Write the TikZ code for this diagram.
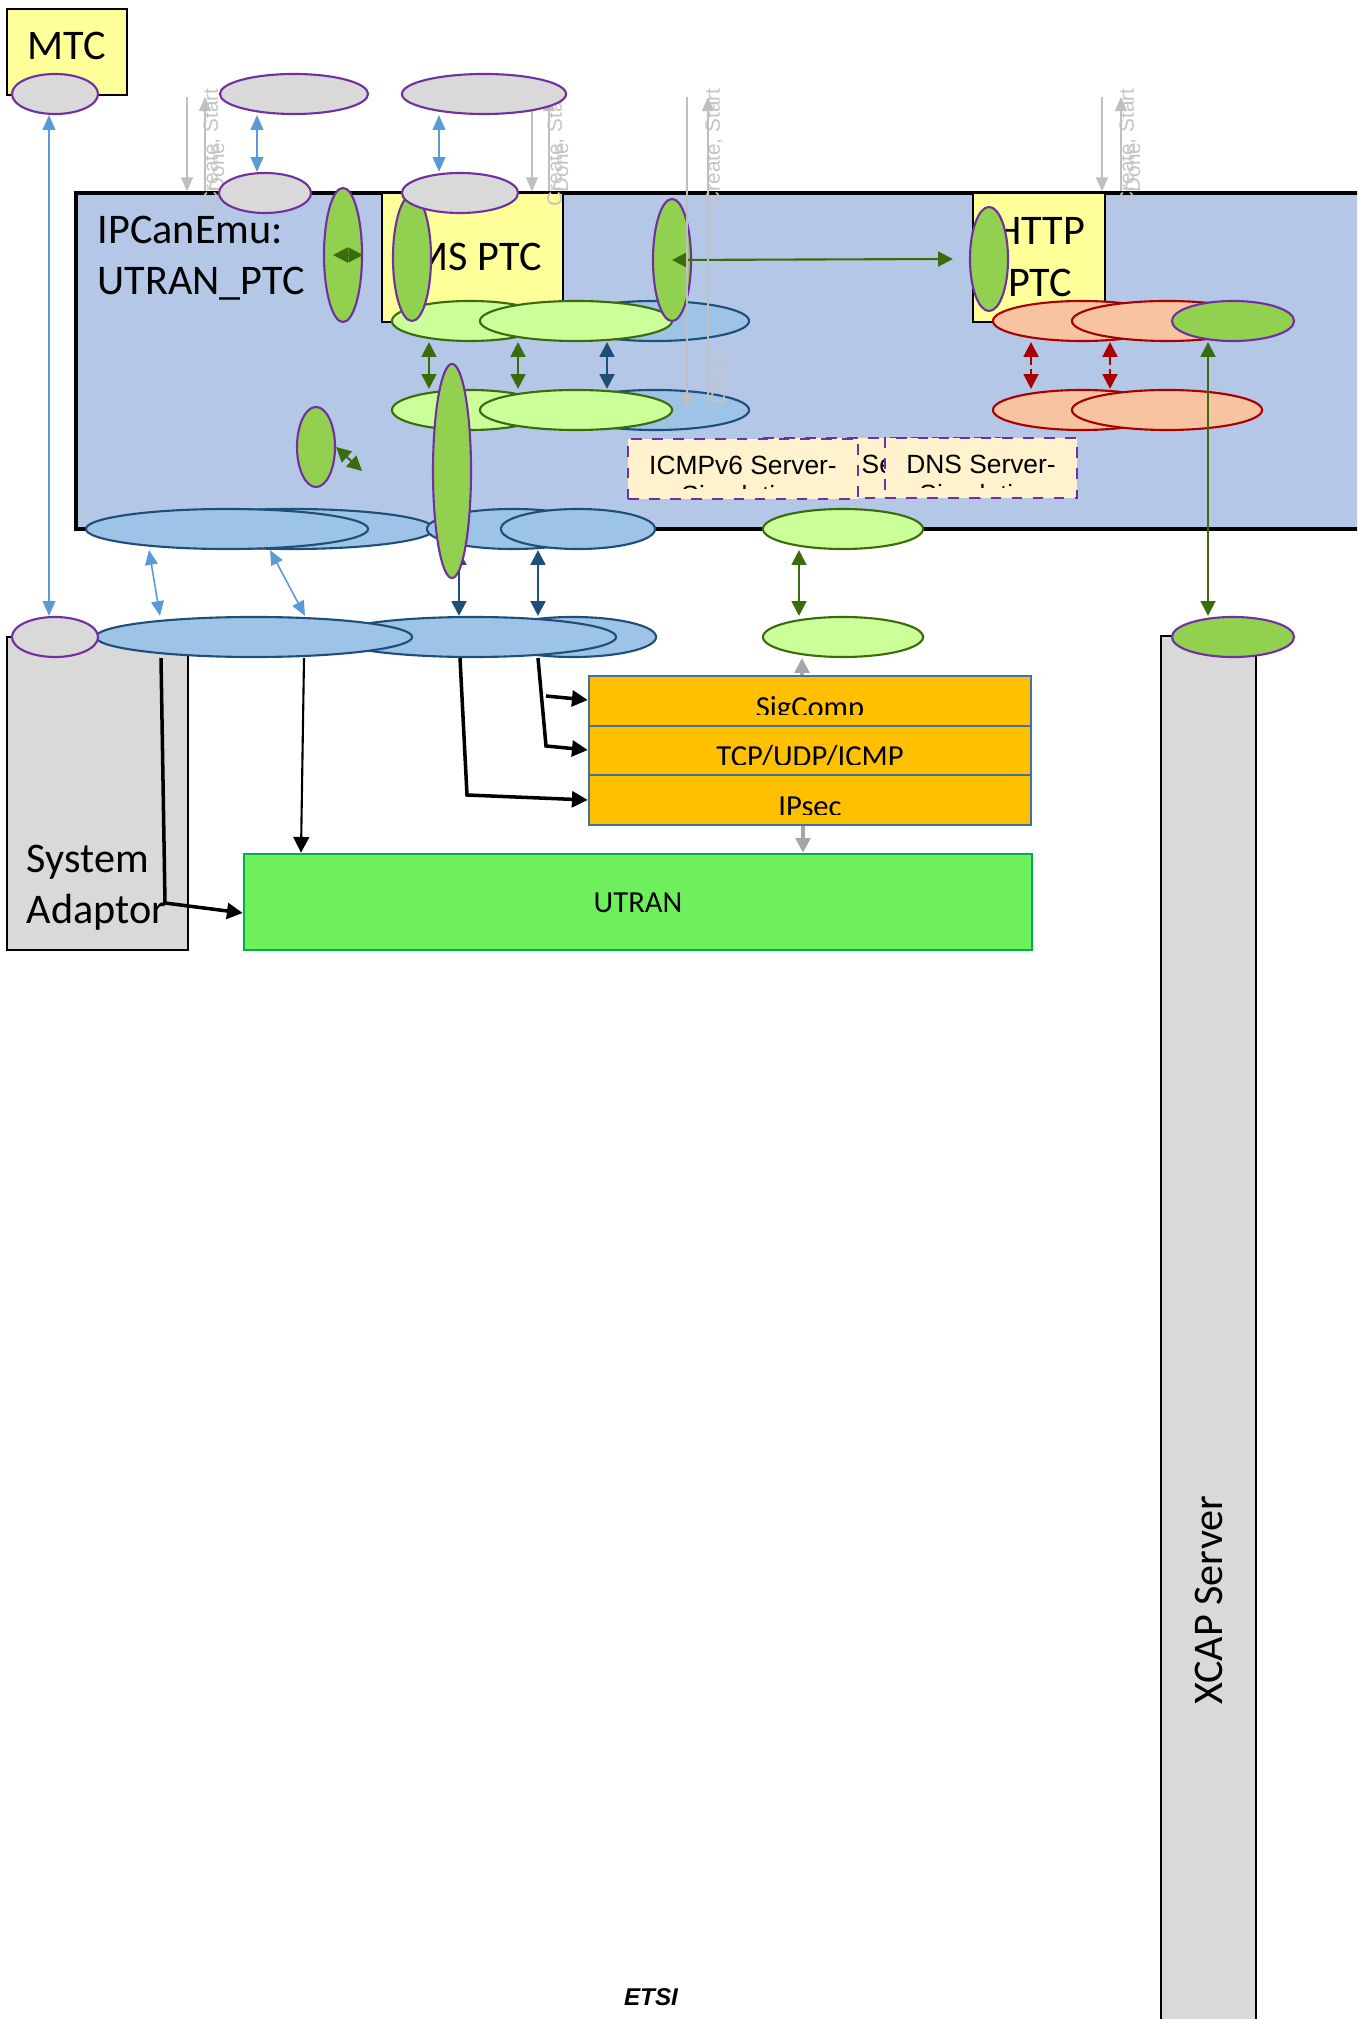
\documentclass[tikz,border=0pt]{standalone}
\usepackage{fontspec}
\setmainfont{Carlito}
\newfontfamily\arialf{Liberation Sans}
\usetikzlibrary{shapes.geometric,arrows.meta,calc}
\definecolor{purp}{HTML}{7030A0}
\definecolor{grayf}{HTML}{D9D9D9}
\definecolor{grnf}{HTML}{92D050}
\definecolor{lgf}{HTML}{CCFF99}
\definecolor{dgrn}{HTML}{3A6B0C}
\definecolor{blf}{HTML}{9DC3E6}
\definecolor{bld}{HTML}{1F4E79}
\definecolor{lblue}{HTML}{5B9BD5}
\definecolor{salf}{HTML}{F7C3A0}
\definecolor{sald}{HTML}{A80000}
\definecolor{canf}{HTML}{B4C7E7}
\definecolor{ylw}{HTML}{FFFF99}
\definecolor{orng}{HTML}{FFC000}
\definecolor{orngd}{HTML}{41719C}
\definecolor{utf}{HTML}{6DF05B}
\definecolor{utd}{HTML}{00B050}
\definecolor{crm}{HTML}{FFF2CC}
\definecolor{ctlline}{HTML}{BFBFBF}
\definecolor{ctltxt}{HTML}{C4C4C4}
\definecolor{gyarrc}{HTML}{A6A6A6}

\begin{document}
\begin{tikzpicture}[x=0.01cm,y=-0.01cm,
  ell/.style 2 args={ellipse,inner sep=0pt,line width=0.6pt,minimum width=#1*0.02cm,minimum height=#2*0.02cm},
  gell/.style={fill=grayf,draw=purp},
  gnell/.style={fill=grnf,draw=purp},
  lgell/.style={fill=lgf,draw=dgrn},
  blell/.style={fill=blf,draw=bld},
  slell/.style={fill=salf,draw=sald},
  rb/.style 2 args={rectangle,inner sep=0pt,line width=0.7pt,draw=black,minimum width=#1*0.01cm,minimum height=#2*0.01cm},
  big/.style={font=\fontsize{12}{14.6}\selectfont,inner sep=0pt},
  mid/.style={font=\fontsize{8.7}{10}\selectfont,inner sep=0pt},
  simtxt/.style={font=\arialf\fontsize{7.5}{8.6}\selectfont,align=center,inner sep=0pt},
  ctl/.style={font=\arialf\fontsize{5.9}{6}\selectfont,text=ctltxt,rotate=90,anchor=west,inner sep=0pt},
  ctlarr/.style={draw=ctlline,line width=0.45pt,>={Triangle[width=3.4pt,length=4pt]},->},
  lbarr/.style={draw=lblue,line width=0.45pt,>={Triangle[width=3.6pt,length=4.2pt]},<->},
  dgarr/.style={draw=dgrn,line width=0.6pt,>={Triangle[width=4.2pt,length=4.2pt]},<->},
  dbarr/.style={draw=bld,line width=0.7pt,>={Triangle[width=4.2pt,length=4.2pt]},<->},
  rdarr/.style={draw=sald,line width=0.7pt,dash pattern=on 2.5pt off 1.2pt,>={Triangle[width=4.2pt,length=4.2pt]},<->},
  gyarr/.style={draw=gyarrc,line width=0.9pt,>={Triangle[width=4.2pt,length=4.2pt]},->},
  blk/.style={draw=black,line width=1pt,>={Triangle[width=4.5pt,length=4.5pt]},->}
]
\useasboundingbox (0,0) rectangle (1357,2019);
\clip (0,0) rectangle (1357,2019);

\node[rb={120}{86},fill=ylw] (mtc) at (67,52) {};
\node[big] (mtcT) at (67,46) {MTC};

\node[rb={181}{313},fill=grayf] (sa) at (97.5,793.5) {};
\node[big,anchor=west,align=left] (saT) at (26,888) {System\\Adaptor};

\node[rb={95}{1388},fill=grayf] (xcap) at (1208.5,1330) {};
\node[big,rotate=90] (xcapT) at (1209,1600) {XCAP Server};

\node[rb={1304}{336},fill=canf,line width=0.9pt] (ipcan) at (728,361) {};
\node[big,anchor=west,align=left] (ipcanT) at (97,258) {IPCanEmu:\\UTRAN\_PTC};

\node[rb={181}{129},fill=ylw] (ims) at (472.5,257.5) {};
\node[big] (imsT) at (472,257) {IMS PTC};
\node[rb={132}{129},fill=ylw] (http) at (1039,257.5) {};
\node[big,align=center] (httpT) at (1040,257) {HTTP\\PTC};

\foreach \dx/\ux/\n in {187/205/1,532/549/2,1102/1121/4}{
  \coordinate (cd\n) at (\dx,97);
  \coordinate (cu\n) at (\ux,97);
  \draw[ctlarr] (cd\n) -- (\dx,0 |- ipcan.north);
  \draw[ctlarr] (\ux,0 |- ipcan.north) -- (cu\n);
  \node[ctl] (cs\n) at (\ux+7,207) {Create, Start};
  \node[ctl] (dn\n) at (\ux+12,193) {Done};
}

\node[rb={241}{60},fill=crm,draw=purp,dashed,line width=0.6pt] (icmpB) at (879.5,468) {};
\node[simtxt,anchor=base west] (icmpBT) at (861,474) {Se};
\node[rb={230}{60},fill=crm,draw=purp,dashed,line width=0.6pt] (icmpA) at (743,469) {};
\begin{scope}
\clip (628,439) rectangle (858,489);
\node[simtxt,anchor=north] (icmpAT) at (743,455) {ICMPv6 Server-\\Simulation};
\end{scope}
\node[rb={192}{60},fill=crm,draw=purp,dashed,line width=0.6pt] (dnsB) at (981,468) {};
\begin{scope}
\clip (885,438) rectangle (1077,488);
\node[simtxt,anchor=north] (dnsT) at (981,454) {DNS Server-\\Simulation};
\end{scope}

\node[ell={94}{20},blell] (blR1) at (655,321) {};
\node[ell={78}{20},lgell] (lgA1) at (470,321) {};
\node[ell={96}{20},lgell] (lgB1) at (576,321) {};
\node[ell={94}{20},blell] (blR2) at (655,410) {};
\node[ell={78}{20},lgell] (lgA2) at (470,410) {};
\node[ell={96}{20},lgell] (lgB2) at (576,410) {};

\node[ell={89}{20},slell] (slA1) at (1082,321) {};
\node[ell={95}{20},slell] (slB1) at (1167,321) {};
\node[ell={61}{20},gnell] (gnX1) at (1233,321) {};
\node[ell={89}{20},slell] (slA2) at (1082,410) {};
\node[ell={95}{20},slell] (slB2) at (1167,410) {};

\node[ell={142}{20},blell] (blP2) at (292,529) {};
\node[ell={141}{20},blell] (blP1) at (227,529) {};
\node[ell={86}{20},blell] (blP3) at (513,529) {};
\node[ell={77}{20},blell] (blP4) at (578,529) {};
\node[ell={80}{20},lgell] (lgS1) at (843,529) {};

\node[ell={83}{20},blell] (blS3) at (573,637) {};
\node[ell={143}{20},blell] (blS2) at (473,637) {};
\node[ell={158}{20},blell] (blS1) at (254,637) {};
\node[ell={80}{20},lgell] (lgS2) at (843,637) {};
\node[ell={61}{20},gnell] (gnX2) at (1233,637) {};

\draw[dbarr] (459,0 |- blP3.south) -- (459,0 |- blS2.north);

\node[ell={19}{67},gnell] (gnA) at (343,255) {};
\node[ell={19}{63},gnell] (gnB) at (412,258) {};
\node[ell={19}{61},gnell] (gnC) at (672,260) {};
\node[ell={19}{52},gnell] (gnH) at (989,259) {};
\node[ell={19}{40},gnell] (gnS) at (316,447) {};
\node[ell={19}{107},gnell] (gnT) at (452,471) {};

\node[ell={74}{20},gell] (gTop1) at (294,94) {};
\node[ell={82}{20},gell] (gTop2) at (484,94) {};
\node[ell={46}{20},gell] (gLow1) at (265,193) {};
\node[ell={58}{20},gell] (gLow2) at (460,193) {};
\node[ell={43}{20},gell] (gMtc) at (55,94) {};
\node[ell={43}{20},gell] (gSa) at (55,637) {};

\node[rb={442}{50},fill=orng,draw=orngd] (sigc) at (810,701) {};
\node[rb={442}{49},fill=orng,draw=orngd] (tcp) at (810,750.5) {};
\node[rb={442}{50},fill=orng,draw=orngd] (ipsec) at (810,800) {};
\begin{scope}
\clip (589,676) rectangle (1031,715);
\node[mid,anchor=base] (sigcT) at (810,718) {SigComp};
\end{scope}
\begin{scope}
\clip (589,726) rectangle (1031,764);
\node[mid,anchor=base] (tcpT) at (810,767) {TCP/UDP/ICMP};
\end{scope}
\begin{scope}
\clip (589,775) rectangle (1031,814);
\node[mid,anchor=base] (ipsecT) at (810,817) {IPsec};
\end{scope}
\node[rb={788}{96},fill=utf,draw=utd] (utran) at (638,902) {};
\node[mid] (utranT) at (638,903) {UTRAN};

\draw[lbarr] (49,0 |- gMtc.south) -- (49,0 |- gSa.north);
\draw[lbarr] (257,0 |- gTop1.south) -- (257,0 |- gLow1.north);
\draw[lbarr] (439,0 |- gTop2.south) -- (439,0 |- gLow2.north);

\draw[dgarr] ($(gnA.center)+(-10,0)$) -- (gnA.east);
\draw[dgarr] (gnC.center) -- ($(gnH.west)+(-16,0)$);
\coordinate (smEnd) at (362,471);
\draw[dgarr] (gnS.east) -- (smEnd);

\draw[dgarr] (429,0 |- lgA1.south) -- (429,0 |- lgA2.north);
\draw[dgarr] (518,0 |- lgB1.south) -- (518,0 |- lgB2.north);
\draw[dbarr] (607,0 |- lgB1.south) -- (607,0 |- lgB2.north);
\draw[rdarr] (1031,0 |- slA1.south) -- (1031,0 |- slA2.north);
\draw[rdarr] (1110,0 |- slB1.south) -- (1110,0 |- slB2.north);
\draw[dgarr] (1208,0 |- gnX1.south) -- (1208,0 |- gnX2.north);
\draw[dgarr] (799,0 |- lgS1.south) -- (799,0 |- lgS2.north);

\draw[lbarr] (149,0 |- blP1.south) -- (160,0 |- blS1.north);
\draw[lbarr] (270,0 |- blP1.south) -- (305,0 |- blS1.north);
\draw[dbarr] (538,0 |- blP4.south) -- (538,0 |- blS3.north);

\draw[gyarr] (802,0 |- sigc.north) -- (802,0 |- lgS2.south);
\draw[gyarr] (803,0 |- ipsec.south) -- (803,0 |- utran.north);

\draw[blk] (161,0 |- blS1.south) -- (165,903) -- (utran.west |- 0,913);
\draw[blk,line width=0.6pt] (304,0 |- blS1.south) -- (301,0 |- utran.north);
\draw[blk] (460,0 |- blS2.south) -- (467,795) -- (ipsec.west |- 0,800);
\draw[blk] (538,0 |- blS3.south) -- (546,746) -- (tcp.west |- 0,750);
\coordinate (sgStart) at (546,696);
\draw[blk] (sgStart) -- (sigc.west |- 0,700);

\coordinate (cd3) at (687,97);
\coordinate (cu3) at (708,97);
\draw[ctlarr] (cd3) -- (687,408);
\draw[ctlarr] (708,410) -- (cu3);
\node[ctl] (cs3) at (714,207) {Create, Start};
\node[ctl] (dn3) at (718,405) {Done};

\node[font=\arialf\bfseries\itshape\fontsize{6.9}{8}\selectfont,inner sep=0pt] (etsi) at (651,1997) {ETSI};
\end{tikzpicture}
\end{document}
